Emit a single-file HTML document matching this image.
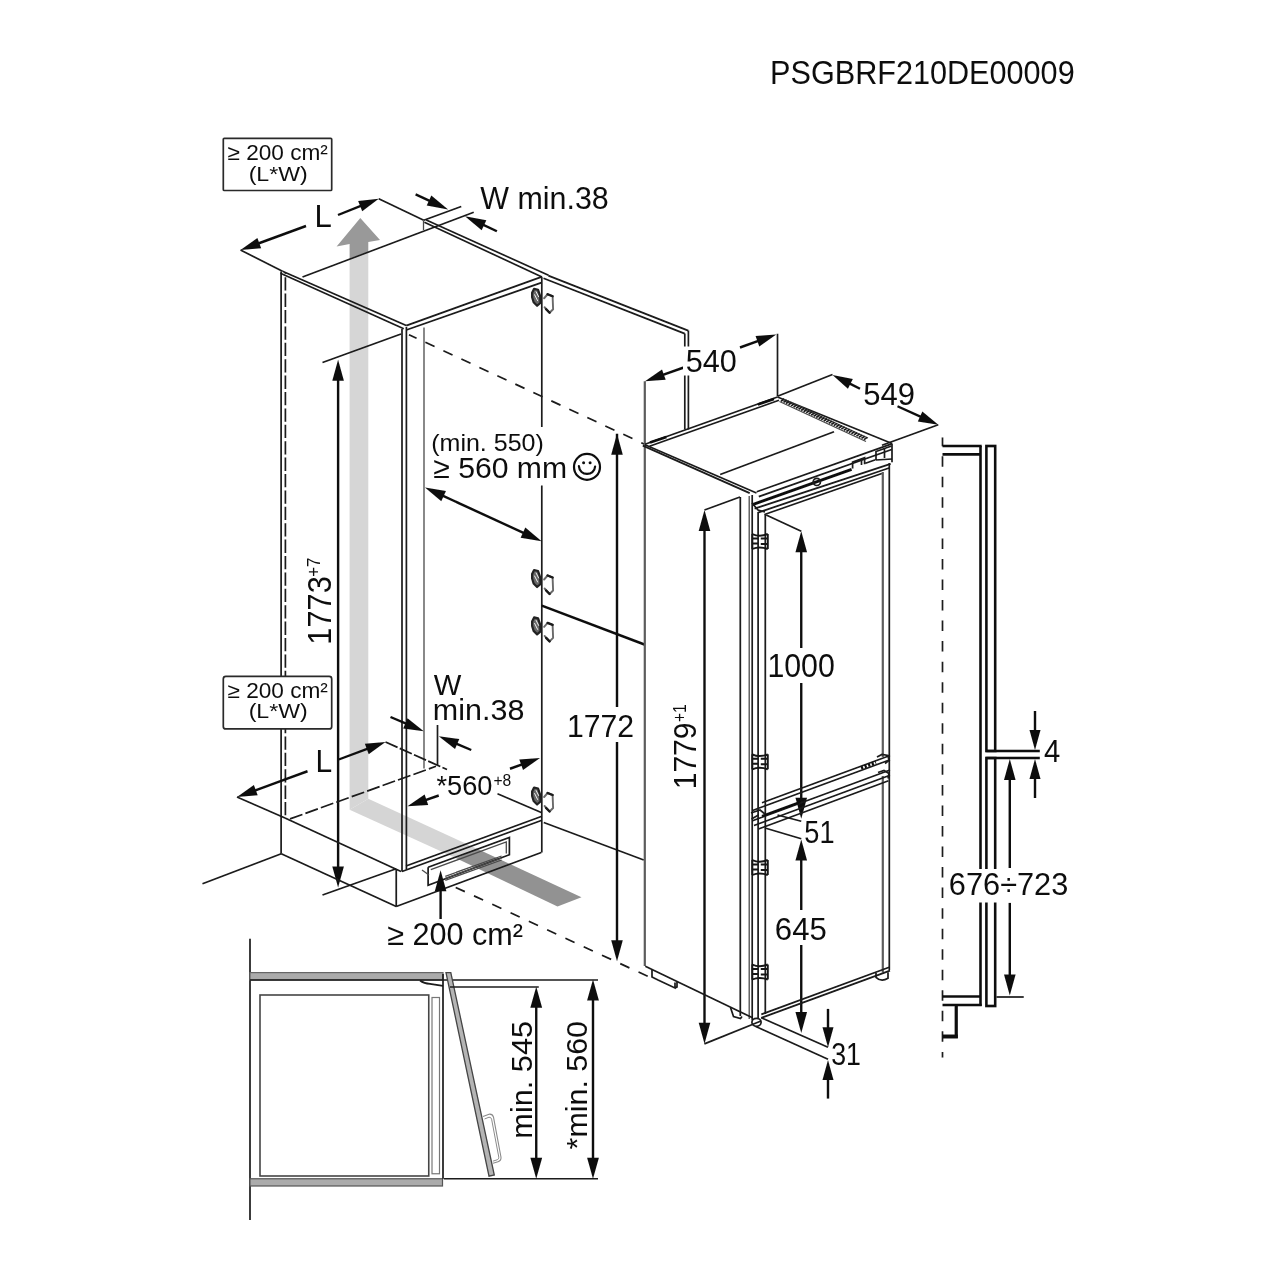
<!DOCTYPE html>
<html><head><meta charset="utf-8"><title>diagram</title>
<style>
html,body{margin:0;padding:0;background:#fff;}
svg{display:block;}
text{font-family:"Liberation Sans",sans-serif;fill:#111;}
.k{stroke:#1a1a1a;stroke-width:1.7;fill:none;stroke-linecap:butt;}
.g{stroke:#4a4a4a;stroke-width:1.3;fill:none;}
.f{stroke:#5c5c5c;stroke-width:2.2;fill:none;}
.lg{stroke:#888;stroke-width:1;fill:none;}
.a{stroke:#111;stroke-width:2.4;fill:none;}
.b{stroke:#111;stroke-width:2.6;fill:none;}
.d{stroke:#1a1a1a;stroke-width:1.5;fill:none;stroke-dasharray:10.8 9.4;}
</style></head><body>
<svg width="1280" height="1280" viewBox="0 0 1280 1280">
<defs>
<linearGradient id="gs" x1="0" y1="246" x2="0" y2="812" gradientUnits="userSpaceOnUse">
<stop offset="0" stop-color="#a2a2a2"/><stop offset="0.05" stop-color="#b8b8b8"/><stop offset="0.1" stop-color="#cdcdcd"/><stop offset="0.16" stop-color="#d7d7d7"/><stop offset="1" stop-color="#d5d5d5"/>
</linearGradient>
</defs>
<filter id="soft" x="0" y="0" width="1280" height="1280" filterUnits="userSpaceOnUse"><feGaussianBlur stdDeviation="0.5"/></filter>
<rect width="1280" height="1280" fill="#fff"/>
<g filter="url(#soft)">
<polygon points="349.60,258.40 368.30,251.80 368.30,798.80 349.60,809.80" fill="#d6d6d6" />
<polygon points="360.30,218.10 380.00,240.10 368.30,241.90 368.30,251.80 349.60,258.40 349.60,243.90 336.60,246.60" fill="#999999" />
<polygon points="368.30,798.80 476.50,848.40 456.25,858.20 349.60,809.80" fill="#d5d5d5" />
<polygon points="476.50,848.40 581.50,897.20 557.50,906.40 456.25,858.20" fill="#929292" />
<text transform="translate(772.5,83.9) scale(0.9451,1)" x="-2.59" y="0" font-size="32.4" fill="#111">PSGBRF210DE00009</text>
<line class="k" x1="240.5" y1="250" x2="282.5" y2="271.25" />
<line class="k" x1="282.5" y1="271.25" x2="406.25" y2="325.5" />
<line class="k" x1="280.5" y1="273.2" x2="403.75" y2="328.75" />
<line class="k" x1="302.5" y1="277" x2="473.75" y2="212.3" />
<line class="k" x1="378.75" y1="198.75" x2="423.75" y2="220.25" />
<line class="k" x1="423.75" y1="220.25" x2="461.25" y2="206.5" />
<line class="g" x1="423.5" y1="220.5" x2="423.5" y2="230" />
<line class="k" x1="426.25" y1="219.9" x2="548.5" y2="275.2" />
<line class="k" x1="424.4" y1="222.2" x2="542" y2="277" />
<line class="k" x1="406.25" y1="325.6" x2="541.5" y2="276.9" />
<line class="k" x1="406.25" y1="330" x2="541.5" y2="282.6" />
<line class="a" x1="306" y1="226" x2="255.52" y2="244.5" />
<polygon points="240.50,250.00 257.39,237.95 261.17,248.28" fill="#111" />
<line class="a" x1="338" y1="215" x2="363.89" y2="204.68" />
<polygon points="378.75,198.75 362.21,211.27 358.14,201.05" fill="#111" />
<text transform="translate(316.9,226.9) scale(0.9885,1)" x="-2.52" y="0" font-size="31.5" fill="#111">L</text>
<line class="a" x1="415.6" y1="194.4" x2="432.85" y2="202.36" />
<polygon points="448.10,209.40 426.73,205.59 431.34,195.61" fill="#111" />
<line class="a" x1="496.9" y1="231.25" x2="480.2" y2="223.4" />
<polygon points="465.00,216.25 486.34,220.21 481.66,230.16" fill="#111" />
<text transform="translate(480.6,209.4) scale(0.9880,1)" x="-0.31" y="0" font-size="30.8" fill="#111">W min.38</text>
<line class="k" x1="281.1" y1="271.5" x2="281.1" y2="853.75" />
<line class="k" x1="285.4" y1="273.3" x2="285.4" y2="818" stroke-dasharray="13.3 3.1" stroke-dashoffset="12.5"/>
<line class="k" x1="402" y1="329" x2="402" y2="871.5" />
<line class="k" x1="406.4" y1="327" x2="406.4" y2="869.5" />
<line class="g" x1="424" y1="327.5" x2="424" y2="768.5" />
<line class="k" x1="541.8" y1="277" x2="541.8" y2="427" />
<line class="k" x1="541.8" y1="485.5" x2="541.8" y2="852.5" />
<line class="k" x1="548.3" y1="275.6" x2="688.2" y2="330.6" />
<line class="k" x1="543.5" y1="278.2" x2="684.7" y2="333.6" />
<line class="k" x1="684.8" y1="333.5" x2="684.8" y2="429.5" />
<line class="k" x1="688.4" y1="330.5" x2="688.4" y2="429.5" />
<line x1="541.8" y1="605.7" x2="644.4" y2="644.5" stroke="#111" stroke-width="2.5"/>
<line class="k" x1="543.75" y1="822.5" x2="643.75" y2="860" />
<line class="k" x1="409" y1="334.7" x2="645" y2="444.4" stroke-dasharray="10.1 9.74" stroke-dashoffset="1.77"/>
<line class="k" x1="455.7" y1="887.4" x2="648.7" y2="976.8" stroke-dasharray="10.07 10.08"/>
<line class="k" x1="322.5" y1="362.5" x2="401" y2="334" />
<line class="a" x1="338.1" y1="870.7" x2="338.1" y2="376.6" />
<polygon points="338.10,359.80 343.90,380.80 332.30,380.80" fill="#111" />
<polygon points="338.10,887.50 332.30,866.50 343.90,866.50" fill="#111" />
<line class="k" x1="322.5" y1="895" x2="396.25" y2="868.75" />
<text transform="translate(330.8,642.2) rotate(-90) scale(0.9336,1)" x="-2.64" y="0" font-size="33" fill="#111">1773</text>
<text transform="translate(320,576) rotate(-90) scale(0.9455,1)" x="-0.90" y="0" font-size="18" fill="#111">+7</text>
<line class="k" x1="237" y1="797" x2="285" y2="818" />
<line class="k" x1="285" y1="818" x2="401" y2="871.5" />
<line class="k" x1="385.5" y1="742" x2="447" y2="769.5" stroke-dasharray="13.2 2.4"/>
<line class="k" x1="290" y1="818.9" x2="436" y2="766.3" stroke-dasharray="13.2 3.2"/>
<line class="k" x1="437.5" y1="725" x2="437.5" y2="765" />
<line class="a" x1="307.5" y1="771.25" x2="252.03" y2="791.51" />
<polygon points="237.00,797.00 253.90,784.97 257.67,795.30" fill="#111" />
<line class="a" x1="338.75" y1="759.5" x2="370.52" y2="747.61" />
<polygon points="385.50,742.00 368.70,754.16 364.84,743.86" fill="#111" />
<text transform="translate(317.8,771.6) scale(0.9585,1)" x="-2.50" y="0" font-size="31.3" fill="#111">L</text>
<line class="a" x1="390.5" y1="717" x2="409.04" y2="724.95" />
<polygon points="423.75,731.25 403.20,728.43 407.53,718.32" fill="#111" />
<line class="a" x1="471.25" y1="750" x2="453.49" y2="742.48" />
<polygon points="438.75,736.25 459.31,738.98 455.03,749.11" fill="#111" />
<text transform="translate(434.1,694.7) scale(0.9749,1)" x="-0.30" y="0" font-size="30" fill="#111">W</text>
<text transform="translate(435,720.4) scale(1.0161,1)" x="-2.10" y="0" font-size="30" fill="#111">min.38</text>
<text transform="translate(437,794.5) scale(0.9714,1)" x="-0.56" y="0" font-size="28" fill="#111">*560</text>
<text transform="translate(494.2,785.6) scale(0.9466,1)" x="-0.82" y="0" font-size="16.5" fill="#111">+8</text>
<line class="a" x1="438.75" y1="795.5" x2="422.63" y2="801.05" />
<polygon points="407.50,806.25 424.62,794.54 428.20,804.95" fill="#111" />
<line class="a" x1="510" y1="768.75" x2="524.94" y2="763.4" />
<polygon points="540.00,758.00 523.03,769.92 519.32,759.57" fill="#111" />
<line class="k" x1="497.5" y1="793.75" x2="541.25" y2="812.5" />
<line class="k" x1="406" y1="866" x2="541.25" y2="816.5" />
<line class="k" x1="402" y1="871.5" x2="541.25" y2="820.5" />
<line class="k" x1="281.25" y1="853.75" x2="396.25" y2="906.5" />
<line class="k" x1="396.25" y1="869" x2="396.25" y2="906.5" />
<line class="k" x1="396.25" y1="906.5" x2="541.25" y2="852.5" />
<line class="k" x1="281.25" y1="853.75" x2="202.5" y2="883.75" />
<polyline class="k" points="428.1,867.2 509.4,837.5 509.4,854.7 428.1,885.2 428.1,867.2" />
<polyline class="g" points="430.8,869.6 506.3,842 506.3,853.5" />
<line class="g" x1="445.3" y1="876.3" x2="501.6" y2="856" />
<line class="g" x1="445.3" y1="878.3" x2="501.6" y2="858" />
<line class="g" x1="445.3" y1="880.3" x2="501.6" y2="860" />
<line class="g" x1="422" y1="870" x2="429" y2="875" />
<line class="a" x1="440.6" y1="919" x2="440.6" y2="887.1" />
<polygon points="440.60,870.30 446.40,891.30 434.80,891.30" fill="#111" />
<text transform="translate(388.1,944.75) scale(0.9940,1)" x="-0.92" y="0" font-size="30.8" fill="#111">≥ 200 cm²</text>
<line class="a" x1="617" y1="433.75" x2="617" y2="707" />
<polygon points="617.00,433.75 622.80,454.75 611.20,454.75" fill="#111" />
<line class="a" x1="617" y1="742" x2="617" y2="945" />
<polygon points="617.00,961.25 611.20,940.25 622.80,940.25" fill="#111" />
<text transform="translate(569.4,737.25) scale(0.9524,1)" x="-2.54" y="0" font-size="31.7" fill="#111">1772</text>
<g transform="translate(541.6,300.75)" fill="none" stroke-linecap="round" stroke-linejoin="round"><path d="M-9.5,-8 l2,-4 l4,1 l2,6 l0.5,7 l-3.5,3 l-3.5,-3.5 l-1.5,-5 z" stroke="#222" stroke-width="2.2" fill="#666"/><path d="M-7,-6 l3,6 M-5.5,-9 l2.5,5" stroke="#eee" stroke-width="1"/><path d="M2.5,-2.5 l3.5,-4 l5,2 l0.5,13 l-3.5,3.5 l-5,-5.5" stroke="#6a6a6a" stroke-width="1.9"/><path d="M6,-6.5 l5,2 M8,12 l-3.5,-3.5" stroke="#1a1a1a" stroke-width="2.4"/></g>
<g transform="translate(541.6,582)" fill="none" stroke-linecap="round" stroke-linejoin="round"><path d="M-9.5,-8 l2,-4 l4,1 l2,6 l0.5,7 l-3.5,3 l-3.5,-3.5 l-1.5,-5 z" stroke="#222" stroke-width="2.2" fill="#666"/><path d="M-7,-6 l3,6 M-5.5,-9 l2.5,5" stroke="#eee" stroke-width="1"/><path d="M2.5,-2.5 l3.5,-4 l5,2 l0.5,13 l-3.5,3.5 l-5,-5.5" stroke="#6a6a6a" stroke-width="1.9"/><path d="M6,-6.5 l5,2 M8,12 l-3.5,-3.5" stroke="#1a1a1a" stroke-width="2.4"/></g>
<g transform="translate(541.6,629.4)" fill="none" stroke-linecap="round" stroke-linejoin="round"><path d="M-9.5,-8 l2,-4 l4,1 l2,6 l0.5,7 l-3.5,3 l-3.5,-3.5 l-1.5,-5 z" stroke="#222" stroke-width="2.2" fill="#666"/><path d="M-7,-6 l3,6 M-5.5,-9 l2.5,5" stroke="#eee" stroke-width="1"/><path d="M2.5,-2.5 l3.5,-4 l5,2 l0.5,13 l-3.5,3.5 l-5,-5.5" stroke="#6a6a6a" stroke-width="1.9"/><path d="M6,-6.5 l5,2 M8,12 l-3.5,-3.5" stroke="#1a1a1a" stroke-width="2.4"/></g>
<g transform="translate(541.6,799.5)" fill="none" stroke-linecap="round" stroke-linejoin="round"><path d="M-9.5,-8 l2,-4 l4,1 l2,6 l0.5,7 l-3.5,3 l-3.5,-3.5 l-1.5,-5 z" stroke="#222" stroke-width="2.2" fill="#666"/><path d="M-7,-6 l3,6 M-5.5,-9 l2.5,5" stroke="#eee" stroke-width="1"/><path d="M2.5,-2.5 l3.5,-4 l5,2 l0.5,13 l-3.5,3.5 l-5,-5.5" stroke="#6a6a6a" stroke-width="1.9"/><path d="M6,-6.5 l5,2 M8,12 l-3.5,-3.5" stroke="#1a1a1a" stroke-width="2.4"/></g>
<line class="f" x1="644.8" y1="381.25" x2="644.8" y2="966" />
<line class="k" x1="777.5" y1="333.75" x2="777.5" y2="396" />
<line class="a" x1="683.75" y1="367.5" x2="660.08" y2="375.9" />
<polygon points="645.00,381.25 662.01,369.38 665.69,379.75" fill="#111" />
<line class="a" x1="740" y1="347.5" x2="761.19" y2="339.9" />
<polygon points="776.25,334.50 759.28,346.43 755.57,336.07" fill="#111" />
<rect x="683" y="346.5" width="8" height="29" fill="#fff"/>
<text transform="translate(686.9,372.25) scale(0.9632,1)" x="-1.27" y="0" font-size="31.8" fill="#111">540</text>
<line class="k" x1="777.5" y1="396.25" x2="832.5" y2="374.5" />
<line class="k" x1="882" y1="445.3" x2="938.3" y2="424.7" />
<line class="a" x1="860" y1="388.75" x2="846.81" y2="382.16" />
<polygon points="832.50,375.00 852.85,379.02 847.93,388.86" fill="#111" />
<line class="a" x1="897.5" y1="406.25" x2="923.72" y2="418.11" />
<polygon points="938.30,424.70 917.81,421.47 922.34,411.45" fill="#111" />
<text transform="translate(864.4,404.7) scale(0.9691,1)" x="-1.28" y="0" font-size="32" fill="#111">549</text>
<line class="k" x1="645" y1="444.3" x2="777.5" y2="397" />
<line class="k" x1="649.5" y1="446.3" x2="779" y2="400.2" />
<line class="k" x1="777.5" y1="397" x2="892" y2="443.5" />
<line class="k" x1="645" y1="444.7" x2="756.5" y2="493" />
<line class="k" x1="642.8" y1="445.6" x2="749.7" y2="493.1" />
<line class="k" x1="756.7" y1="491.7" x2="891.7" y2="443.9" />
<line class="k" x1="720.2" y1="474.5" x2="834" y2="431.8" />
<line class="g" x1="779.5" y1="401.5" x2="866" y2="441.5" />
<line class="g" x1="783" y1="398.8" x2="868" y2="438" />
<line class="k" x1="781.0" y1="401.2" x2="784.2" y2="399.0" />
<line class="k" x1="783.5" y1="402.4" x2="786.7" y2="400.2" />
<line class="k" x1="786.0" y1="403.5" x2="789.2" y2="401.3" />
<line class="k" x1="788.5" y1="404.7" x2="791.7" y2="402.5" />
<line class="k" x1="791.1" y1="405.9" x2="794.3" y2="403.7" />
<line class="k" x1="793.6" y1="407.0" x2="796.8" y2="404.8" />
<line class="k" x1="796.1" y1="408.2" x2="799.3" y2="406.0" />
<line class="k" x1="798.6" y1="409.3" x2="801.8" y2="407.1" />
<line class="k" x1="801.1" y1="410.5" x2="804.3" y2="408.3" />
<line class="k" x1="803.6" y1="411.7" x2="806.8" y2="409.5" />
<line class="k" x1="806.2" y1="412.8" x2="809.4" y2="410.6" />
<line class="k" x1="808.7" y1="414.0" x2="811.9" y2="411.8" />
<line class="k" x1="811.2" y1="415.2" x2="814.4" y2="413.0" />
<line class="k" x1="813.7" y1="416.3" x2="816.9" y2="414.1" />
<line class="k" x1="816.2" y1="417.5" x2="819.4" y2="415.3" />
<line class="k" x1="818.7" y1="418.7" x2="821.9" y2="416.5" />
<line class="k" x1="821.2" y1="419.8" x2="824.4" y2="417.6" />
<line class="k" x1="823.8" y1="421.0" x2="827.0" y2="418.8" />
<line class="k" x1="826.3" y1="422.1" x2="829.5" y2="419.9" />
<line class="k" x1="828.8" y1="423.3" x2="832.0" y2="421.1" />
<line class="k" x1="831.3" y1="424.5" x2="834.5" y2="422.3" />
<line class="k" x1="833.8" y1="425.6" x2="837.0" y2="423.4" />
<line class="k" x1="836.3" y1="426.8" x2="839.5" y2="424.6" />
<line class="k" x1="838.8" y1="428.0" x2="842.0" y2="425.8" />
<line class="k" x1="841.4" y1="429.1" x2="844.6" y2="426.9" />
<line class="k" x1="843.9" y1="430.3" x2="847.1" y2="428.1" />
<line class="k" x1="846.4" y1="431.5" x2="849.6" y2="429.3" />
<line class="k" x1="848.9" y1="432.6" x2="852.1" y2="430.4" />
<line class="k" x1="851.4" y1="433.8" x2="854.6" y2="431.6" />
<line class="k" x1="853.9" y1="434.9" x2="857.1" y2="432.7" />
<line class="k" x1="856.5" y1="436.1" x2="859.7" y2="433.9" />
<line class="k" x1="859.0" y1="437.3" x2="862.2" y2="435.1" />
<line class="k" x1="861.5" y1="438.4" x2="864.7" y2="436.2" />
<line class="k" x1="864.0" y1="439.6" x2="867.2" y2="437.4" />
<line class="b" x1="650" y1="442.6" x2="666.4" y2="436.9" />
<line class="b" x1="757.8" y1="404.6" x2="774" y2="398.9" />
<line class="k" x1="758.8" y1="496.6" x2="891.7" y2="449.5" />
<line x1="752.5" y1="504.6" x2="851.6" y2="469.4" stroke="#111" stroke-width="2.8"/>
<line class="k" x1="754.6" y1="508.6" x2="890.6" y2="463.9" />
<line class="k" x1="758" y1="512.6" x2="889.8" y2="467.8" />
<line class="k" x1="764.5" y1="514.5" x2="881.9" y2="473.5" />
<line class="k" x1="892" y1="443.5" x2="892" y2="462.3" />
<path class="k" stroke-width="1.9" d="M852.6,468.6 v-6.5 l12,-4.3 v6.5 M861.5,459 v6 M865.5,463.2 l10,-3.5 M876,460 v-8.5 l15.5,-5.5 M884.5,448.5 v9.5 M876,460 l16,-1"/>
<circle cx="816.8" cy="481.9" r="3.6" class="k" fill="#fff" stroke-width="1.8"/>
<path d="M752,503 l6,7 l7,2" class="k" stroke-width="2.2"/>
<line class="k" x1="740.3" y1="497" x2="740.3" y2="1016" stroke-width="1.9"/>
<line class="g" x1="749.2" y1="496" x2="749.2" y2="1019" />
<line class="k" x1="752.2" y1="495" x2="752.2" y2="1020" />
<path class="k" stroke-width="1.9" d="M758.1,512 V1018 M765.3,514 V1014"/>
<line class="f" x1="882.8" y1="472" x2="882.8" y2="757" />
<line class="k" x1="889.3" y1="463" x2="889.3" y2="970" />
<line class="f" x1="882.8" y1="776" x2="882.8" y2="972.5" />
<line class="k" x1="704.5" y1="510" x2="740" y2="497" />
<line class="a" x1="704.5" y1="529" x2="704.5" y2="1025" />
<polygon points="704.50,510.00 710.30,531.00 698.70,531.00" fill="#111" />
<polygon points="704.50,1043.75 698.70,1022.75 710.30,1022.75" fill="#111" />
<text transform="translate(696.25,786.9) rotate(-90) scale(0.9390,1)" x="-2.56" y="0" font-size="32" fill="#111">1779</text>
<text transform="translate(686.25,721.25) rotate(-90) scale(0.8778,1)" x="-0.89" y="0" font-size="17.8" fill="#111">+1</text>
<line class="k" x1="766.25" y1="515" x2="801.25" y2="531.25" />
<line class="a" x1="801.25" y1="548" x2="801.25" y2="648" />
<polygon points="801.25,531.25 807.05,552.25 795.45,552.25" fill="#111" />
<line class="a" x1="801.25" y1="683" x2="801.25" y2="802" />
<polygon points="801.25,818.75 795.45,797.75 807.05,797.75" fill="#111" />
<text transform="translate(769.8,676.7) scale(0.9391,1)" x="-2.58" y="0" font-size="32.3" fill="#111">1000</text>
<line class="k" x1="762" y1="802.8" x2="890" y2="755.5" />
<line class="k" x1="752.5" y1="810.5" x2="890" y2="759.7" />
<line class="k" x1="752.5" y1="820.8" x2="890" y2="770" />
<line class="k" x1="754" y1="825.5" x2="890" y2="775.2" />
<line class="k" x1="758.5" y1="829" x2="888.5" y2="780.8" />
<line class="a" x1="762" y1="816.2" x2="800" y2="802.2" />
<line class="k" x1="777.5" y1="815" x2="801.25" y2="821.25" />
<line class="k" x1="765" y1="828" x2="801.25" y2="838.75" />
<path d="M877,757 l5,-2.5 l6,1 l1,5 l-4,3 M878,772.5 l6,-2 l5,3 l-1,5" class="k" stroke-width="2"/>
<path d="M861,768 l15,-5.5" stroke="#111" stroke-width="3.4" stroke-dasharray="2.2 1.6"/>
<path d="M751,813 l9,-3 l5,4 M751.5,819 l7,-4" class="k" stroke-width="2.2"/>
<text transform="translate(805.4,843.4) scale(0.8676,1)" x="-1.25" y="0" font-size="31.3" fill="#111">51</text>
<line class="a" x1="801.25" y1="857" x2="801.25" y2="910" />
<polygon points="801.25,839.50 807.05,860.50 795.45,860.50" fill="#111" />
<line class="a" x1="801.25" y1="945" x2="801.25" y2="1016" />
<polygon points="801.25,1033.00 795.45,1012.00 807.05,1012.00" fill="#111" />
<text transform="translate(776.4,939.6) scale(0.9949,1)" x="-1.56" y="0" font-size="31.3" fill="#111">645</text>
<line class="k" x1="645.3" y1="966.25" x2="752.5" y2="1017.7" />
<line class="k" x1="761.3" y1="1014.4" x2="889.2" y2="967.3" />
<line class="k" x1="761.3" y1="1017.9" x2="890" y2="970.6" />
<line class="k" x1="704.4" y1="1043.9" x2="761" y2="1021" />
<line class="k" x1="761.3" y1="1017.7" x2="828" y2="1047.2" />
<line class="k" x1="755.8" y1="1026.4" x2="828" y2="1059.2" />
<path class="k" d="M652,970 v7 l6,3 M658,980 l17,8 v-5.5 M675,988 l2,-1 v-5" stroke-width="1.3"/>
<path class="k" d="M730.5,1007.5 l3,9 l7,2 l1.5,-2" stroke-width="1.3"/>
<path class="k" d="M876,972.8 v4.5 q5,5 12,1 v-6" stroke-width="1.3"/>
<ellipse cx="756.5" cy="1022.3" rx="4.6" ry="4" class="k" stroke-width="1.3"/>
<line class="a" x1="828" y1="1008.9" x2="828.0" y2="1031.2" />
<polygon points="828.00,1047.20 822.50,1027.20 833.50,1027.20" fill="#111" />
<line class="a" x1="828" y1="1098.6" x2="828.0" y2="1075.9" />
<polygon points="828.00,1059.90 833.50,1079.90 822.50,1079.90" fill="#111" />
<text transform="translate(832.3,1065.2) scale(0.8551,1)" x="-1.25" y="0" font-size="31.3" fill="#111">31</text>
<g transform="translate(759.3,541.5)" fill="none" stroke="#151515" stroke-width="1.9"><path d="M-7,-7.5 q7,3.5 15.5,0 M-7,7.5 q7,-3 15.5,0 M-7,-3 h6 M-7,2 h6 M1.5,-3 h7 M1.5,2.5 h7 M-7,-7.5 v15 M8.5,-7.5 v15"/></g>
<g transform="translate(759.3,761.8)" fill="none" stroke="#151515" stroke-width="1.9"><path d="M-7,-7.5 q7,3.5 15.5,0 M-7,7.5 q7,-3 15.5,0 M-7,-3 h6 M-7,2 h6 M1.5,-3 h7 M1.5,2.5 h7 M-7,-7.5 v15 M8.5,-7.5 v15"/></g>
<g transform="translate(759.3,867.5)" fill="none" stroke="#151515" stroke-width="1.9"><path d="M-7,-7.5 q7,3.5 15.5,0 M-7,7.5 q7,-3 15.5,0 M-7,-3 h6 M-7,2 h6 M1.5,-3 h7 M1.5,2.5 h7 M-7,-7.5 v15 M8.5,-7.5 v15"/></g>
<g transform="translate(759.3,972)" fill="none" stroke="#151515" stroke-width="1.9"><path d="M-7,-7.5 q7,3.5 15.5,0 M-7,7.5 q7,-3 15.5,0 M-7,-3 h6 M-7,2 h6 M1.5,-3 h7 M1.5,2.5 h7 M-7,-7.5 v15 M8.5,-7.5 v15"/></g>
<line class="k" x1="942.5" y1="437.5" x2="942.5" y2="1057.5" stroke-dasharray="10.5 10.04" stroke-dashoffset="1.79"/>
<line class="b" x1="942.5" y1="446" x2="981.7" y2="446" />
<line class="b" x1="942.5" y1="454.4" x2="980.5" y2="454.4" />
<line class="b" x1="980.5" y1="446" x2="980.5" y2="1006" />
<rect x="986.4" y="446" width="8.8" height="305" class="b"/>
<rect x="986.4" y="758" width="8.8" height="248" class="b"/>
<line class="a" x1="986.4" y1="751" x2="1039.8" y2="751" />
<line class="a" x1="986.4" y1="758" x2="1039.8" y2="758" />
<line class="b" x1="942.5" y1="996.5" x2="980.5" y2="996.5" />
<line class="b" x1="942.5" y1="1005" x2="981.7" y2="1005" />
<line x1="956.25" y1="1005" x2="956.25" y2="1038" stroke="#111" stroke-width="3.2"/>
<line x1="942.5" y1="1036.5" x2="957.8" y2="1036.5" stroke="#111" stroke-width="4"/>
<line class="k" x1="996.5" y1="997" x2="1023.75" y2="997" />
<line class="a" x1="1035" y1="711" x2="1035.0" y2="734.0" />
<polygon points="1035.00,750.00 1029.50,730.00 1040.50,730.00" fill="#111" />
<line class="a" x1="1035" y1="798" x2="1035.0" y2="775.0" />
<polygon points="1035.00,759.00 1040.50,779.00 1029.50,779.00" fill="#111" />
<text transform="translate(1044.5,762) scale(0.9334,1)" x="-0.63" y="0" font-size="31.3" fill="#111">4</text>
<line class="a" x1="1009.8" y1="777" x2="1009.8" y2="868" />
<polygon points="1009.80,759.00 1015.60,780.00 1004.00,780.00" fill="#111" />
<line class="a" x1="1009.8" y1="902.8" x2="1009.8" y2="978" />
<polygon points="1009.80,995.60 1004.00,974.60 1015.60,974.60" fill="#111" />
<rect x="948" y="869" width="121" height="33.5" fill="#fff"/>
<text transform="translate(950.4,895.2) scale(0.9758,1)" x="-1.57" y="0" font-size="31.5" fill="#111">676÷723</text>
<line class="k" x1="250" y1="938.75" x2="250" y2="1220" />
<rect x="250" y="972.6" width="193" height="7.4" fill="#ababab" stroke="#666" stroke-width="1.2"/>
<line class="k" x1="250" y1="980" x2="598" y2="980" />
<path d="M420,980.5 q4,3 10,3.3 l13,2" class="k" stroke-width="2"/>
<rect x="250" y="1178.75" width="192.5" height="7.25" fill="#ababab" stroke="#555" stroke-width="1.2"/>
<rect x="260" y="995" width="168.75" height="181" fill="none" stroke="#444" stroke-width="1.6"/>
<rect x="432" y="997.5" width="7.5" height="176.25" fill="none" stroke="#777" stroke-width="1.2"/>
<line class="k" x1="443" y1="974" x2="443" y2="1178.75" />
<polygon points="446.00,972.60 450.80,972.60 494.30,1175.00 489.00,1176.20" fill="#b4b4b4" stroke="#444" stroke-width="1.3"/>
<path d="M483,1116.5 l6,-2.3 q3.5,-0.5 4.5,3 l7.5,40 q0.3,3.5 -3,4.5 l-5,1.5" fill="none" stroke="#8a8a8a" stroke-width="1.1"/>
<path d="M484.5,1119 l4.5,-1.8 q2,-0.3 2.6,2 l7.2,38 q0.2,2 -1.6,2.6 l-4.4,1.4" fill="none" stroke="#8a8a8a" stroke-width="1"/>
<line class="k" x1="450" y1="987" x2="538.75" y2="987" />
<line class="k" x1="443.75" y1="1178.75" x2="598" y2="1178.75" />
<line class="a" x1="536.25" y1="1161.95" x2="536.25" y2="1003.55" />
<polygon points="536.25,986.75 542.15,1007.75 530.35,1007.75" fill="#111" />
<polygon points="536.25,1178.75 530.35,1157.75 542.15,1157.75" fill="#111" />
<line class="a" x1="593.0" y1="1161.95" x2="593.0" y2="996.3" />
<polygon points="593.00,979.50 598.90,1000.50 587.10,1000.50" fill="#111" />
<polygon points="593.00,1178.75 587.10,1157.75 598.90,1157.75" fill="#111" />
<text transform="translate(531.6,1136.5) rotate(-90) scale(1.0233,1)" x="-2.10" y="0" font-size="30" fill="#111">min. 545</text>
<text transform="translate(587.3,1148.8) rotate(-90) scale(1.0136,1)" x="-0.60" y="0" font-size="30" fill="#111">*min. 560</text>
<rect x="223.3" y="138.3" width="108.4" height="52.2" rx="1" fill="#fff" stroke="#2a2a2a" stroke-width="1.7"/>
<text transform="translate(228.1,160) scale(1.0531,1)" x="-0.65" y="0" font-size="21.5" fill="#111">≥ 200 cm²</text>
<text transform="translate(250,180.6) scale(1.1292,1)" x="-1.23" y="0" font-size="20.5" fill="#111">(L*W)</text>
<rect x="223.3" y="676.4" width="108.4" height="52.5" rx="2.5" fill="#fff" stroke="#2a2a2a" stroke-width="1.7"/>
<text transform="translate(228.1,698.1) scale(1.0630,1)" x="-0.64" y="0" font-size="21.3" fill="#111">≥ 200 cm²</text>
<text transform="translate(250,718.2) scale(1.1292,1)" x="-1.23" y="0" font-size="20.5" fill="#111">(L*W)</text>
<text transform="translate(432.7,451) scale(1.0658,1)" x="-1.41" y="0" font-size="23.5" fill="#111">(min. 550)</text>
<text transform="translate(434.1,477.7) scale(1.0054,1)" x="-0.90" y="0" font-size="30" fill="#111">≥ 560 mm</text>
<circle cx="587" cy="466.9" r="13" fill="none" stroke="#111" stroke-width="2.2"/>
<circle cx="583.6" cy="462.8" r="1.5" fill="#111"/><circle cx="590.1" cy="462.8" r="1.5" fill="#111"/>
<path d="M578.9,466.1 C579.5,476.5 594.5,476.5 595.1,466.5" fill="none" stroke="#111" stroke-width="2.2" stroke-linecap="round"/>
<line class="a" x1="439.89" y1="494.37" x2="526.71" y2="534.38" />
<polygon points="541.60,541.25 520.64,537.75 525.33,527.58" fill="#111" />
<polygon points="425.00,487.50 445.96,491.00 441.27,501.17" fill="#111" />
</g>
</svg></body></html>
